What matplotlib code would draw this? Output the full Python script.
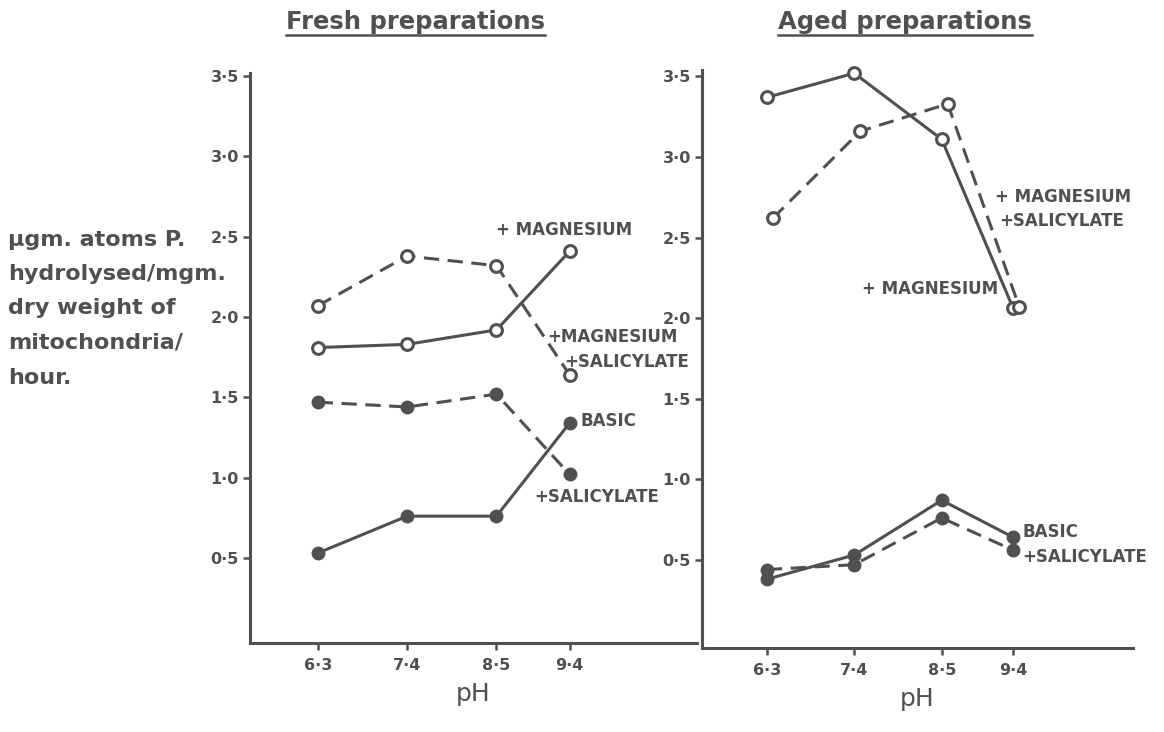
import matplotlib
matplotlib.use("Agg")
import matplotlib.pyplot as plt
from matplotlib.lines import Line2D
from matplotlib.transforms import ScaledTranslation

# ---- data ----
ph = [6.3, 7.4, 8.5, 9.4]
ph_labels = ["6·3", "7·4", "8·5", "9·4"]
y_ticks = [0.5, 1.0, 1.5, 2.0, 2.5, 3.0, 3.5]
y_tick_labels = ["0·5", "1·0", "1·5", "2·0", "2·5", "3·0", "3·5"]
y_label_lines = ["µgm. atoms P.", "hydrolysed/mgm.", "dry weight of", "mitochondria/", "hour."]

fresh_basic = [0.53, 0.76, 0.76, 1.34]
fresh_sal = [1.47, 1.44, 1.52, 1.02]
fresh_mg = [1.81, 1.83, 1.92, 2.41]
fresh_mg_sal = [2.07, 2.38, 2.32, 1.64]

aged_basic = [0.38, 0.53, 0.87, 0.64]
aged_sal = [0.44, 0.47, 0.76, 0.56]
aged_mg = [3.37, 3.52, 3.11, 2.06]
aged_mg_sal = [2.62, 3.16, 3.33, 2.07]

C = "#505050"
LW = 2.2
DASH = (0, (5, 2.8))

fig = plt.figure(figsize=(11.64, 7.32), dpi=100)
fig.patch.set_facecolor("white")

axL = fig.add_axes([250/1164, (732-643)/732, (697-250)/1164, (643-73)/732])
axR = fig.add_axes([702/1164, (732-648)/732, (1133-702)/1164, (648-70)/732])

def style(ax, xlim, ylim):
    ax.set_xlim(*xlim)
    ax.set_ylim(*ylim)
    for s in ["top", "right"]:
        ax.spines[s].set_visible(False)
    for s in ["left", "bottom"]:
        ax.spines[s].set_linewidth(LW)
        ax.spines[s].set_color(C)
    ax.set_xticks(ph)
    ax.set_xticklabels(ph_labels, fontsize=11.5, color=C, fontweight="bold")
    ax.set_yticks(y_ticks)
    ax.set_yticklabels(y_tick_labels, fontsize=11.5, color=C, fontweight="bold")
    ax.tick_params(axis="both", direction="out", length=5, width=1.8, color=C, pad=3)
    ax.tick_params(axis="x", pad=6)
    ax.set_xlabel("pH", fontsize=18, color=C, labelpad=6)
    ax.patch.set_alpha(0)

style(axL, (5.466, 10.968), (-0.03, 3.52))
style(axR, (5.484, 10.907), (-0.047, 3.54))

def series(ax, y, dashed, filled, transform=None):
    kw = dict(color=C, lw=LW, linestyle=DASH if dashed else "-",
              marker="o", zorder=3, clip_on=False)
    if filled:
        kw.update(markersize=10, markerfacecolor=C, markeredgecolor=C, markeredgewidth=0)
    else:
        kw.update(markersize=8.5, markerfacecolor="white", markeredgecolor=C, markeredgewidth=2.2)
    if transform is not None:
        kw["transform"] = transform
    ax.plot(ph, y, **kw)

series(axL, fresh_basic, False, True)
series(axL, fresh_sal, True, True)
series(axL, fresh_mg, False, False)
series(axL, fresh_mg_sal, True, False)

series(axR, aged_basic, False, True)
series(axR, aged_sal, True, True)
series(axR, aged_mg, False, False)
series(axR, aged_mg_sal, True, False,
       transform=axR.transData + ScaledTranslation(0.06, 0, fig.dpi_scale_trans))

tk = dict(fontsize=12, color=C, ha="left", va="center", fontweight="bold")
axL.text(8.49, 2.54, "+ MAGNESIUM", **tk)
axL.text(9.13, 1.875, "+MAGNESIUM", **tk)
axL.text(9.34, 1.72, "+SALICYLATE", **tk)
axL.text(9.53, 1.35, "BASIC", **tk)
axL.text(8.97, 0.88, "+SALICYLATE", **tk)

axR.text(9.17, 2.75, "+ MAGNESIUM", **tk)
axR.text(9.23, 2.60, "+SALICYLATE", **tk)
axR.text(7.50, 2.18, "+ MAGNESIUM", **tk)
axR.text(9.52, 0.67, "BASIC", **tk)
axR.text(9.51, 0.52, "+SALICYLATE", **tk)

# titles (underlined)
t1 = fig.text(415/1164, 1 - 22/732, "Fresh preparations", fontsize=17.5, color=C,
              ha="center", va="center", fontweight="bold")
t2 = fig.text(905/1164, 1 - 22/732, "Aged preparations", fontsize=17.5, color=C,
              ha="center", va="center", fontweight="bold")

# y label, one text per line
line_y = [240, 274, 308, 343, 378]
for s, py in zip(y_label_lines, line_y):
    fig.text(8/1164, 1 - py/732, s, fontsize=16, color=C, ha="left",
             va="center", fontweight="bold")

fig.canvas.draw()
r = fig.canvas.get_renderer()
for t in (t1, t2):
    bb = t.get_window_extent(r).transformed(fig.transFigure.inverted())
    y = bb.y0 - 1/732
    fig.add_artist(Line2D([bb.x0, bb.x1], [y, y], transform=fig.transFigure,
                          color=C, lw=1.8))

fig.savefig("out.png", dpi=100, facecolor="white")
